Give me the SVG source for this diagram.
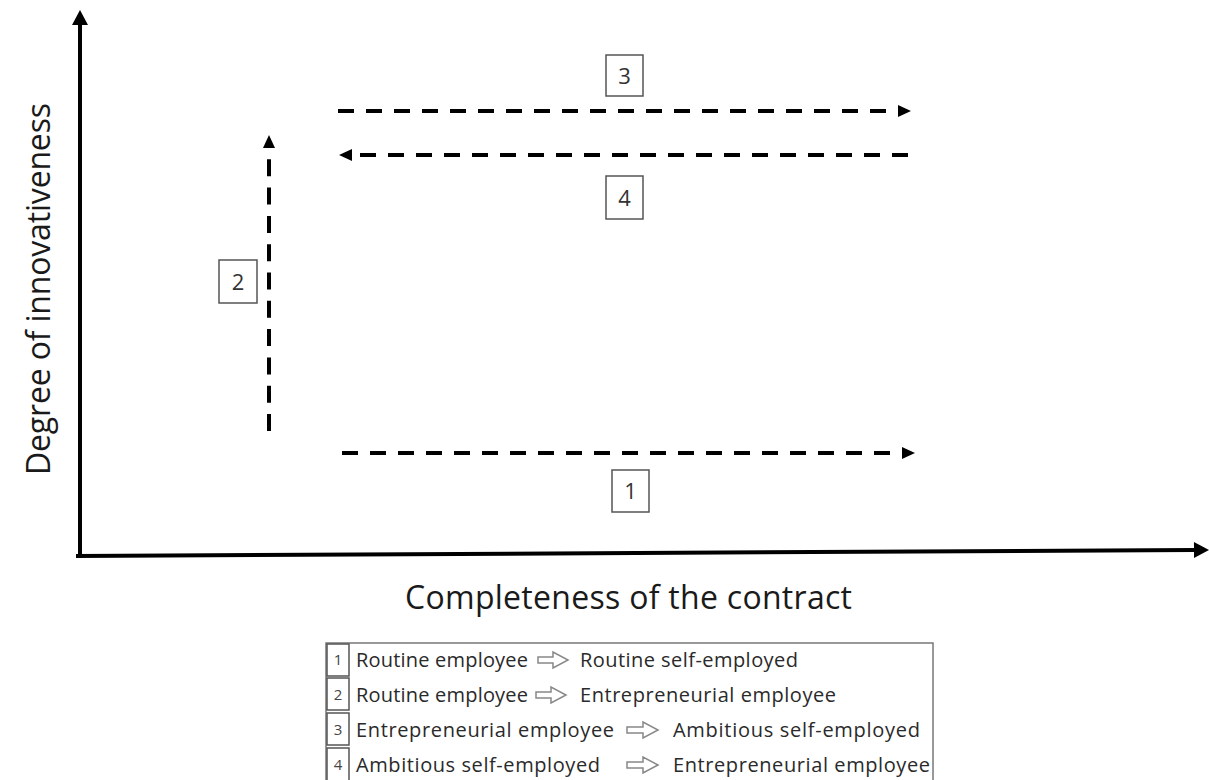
<svg xmlns="http://www.w3.org/2000/svg" width="1209" height="780" viewBox="0 0 1209 780">
<style>
.lbl{font-family:"Open Sans","Liberation Sans",sans-serif;fill:#1a1a1a}
.axis{stroke:#000;stroke-width:4;fill:none}
.dash{stroke:#000;stroke-width:4;fill:none;stroke-dasharray:16 12}
.dashv{stroke:#000;stroke-width:4;fill:none;stroke-dasharray:17 11.3}
.nbox{fill:#fff;stroke:#555;stroke-width:1.5}
.num{font-family:"Open Sans","Liberation Sans",sans-serif;font-size:22px;fill:#333;text-anchor:middle}
.leg{font-family:"Open Sans","Liberation Sans",sans-serif;font-size:20px;fill:#2a2a2a}
.lnum{font-family:"Open Sans","Liberation Sans",sans-serif;font-size:15px;fill:#444;text-anchor:middle}
.lbox{fill:none;stroke:#777;stroke-width:1.5}
.harrow{fill:none;stroke:#888;stroke-width:1.5;stroke-linejoin:miter}
</style>
<defs>
<marker id="ah" markerUnits="userSpaceOnUse" markerWidth="14" markerHeight="12" refX="0" refY="6" orient="auto" overflow="visible">
<path d="M0,0 L13,6 L0,12 z" fill="#000"/>
</marker>
<marker id="axh" markerUnits="userSpaceOnUse" markerWidth="16" markerHeight="16" refX="0" refY="8" orient="auto" overflow="visible">
<path d="M0,0 L15,8 L0,16 z" fill="#000"/>
</marker>
</defs>
<rect width="1209" height="780" fill="#fff"/>

<g id="axes">
<path class="axis" d="M80,556 L80,25" marker-end="url(#axh)"/>
<path class="axis" d="M76,556 L1194,550" marker-end="url(#axh)"/>
<text class="lbl" font-size="32" text-anchor="middle" textLength="372" transform="translate(50,289) rotate(-90)">Degree of innovativeness</text>
<text class="lbl" font-size="32" x="405" y="609" textLength="447">Completeness of the contract</text>
</g>

<g id="connectors">
<path class="dash" d="M342,453 H902" marker-end="url(#ah)"/>
<path class="dashv" d="M269,431 V148" marker-end="url(#ah)"/>
<path class="dash" d="M338,111 H898" marker-end="url(#ah)"/>
<path class="dash" d="M908,155 H352" marker-end="url(#ah)"/>
</g>

<g id="label1"><rect class="nbox" x="612" y="470" width="37" height="42"/><text class="num" x="630.5" y="499">1</text></g>
<g id="label2"><rect class="nbox" x="219" y="260" width="38" height="43"/><text class="num" x="238" y="290">2</text></g>
<g id="label3"><rect class="nbox" x="606" y="55" width="37" height="41"/><text class="num" x="624.5" y="84">3</text></g>
<g id="label4"><rect class="nbox" x="606" y="176" width="37" height="43"/><text class="num" x="624.5" y="206">4</text></g>

<g id="legend">
<rect class="lbox" x="326" y="643" width="607" height="150"/>
<g id="legend-row1">
<rect class="nbox" x="327" y="644" width="22" height="32"/><text class="lnum" x="338" y="665">1</text>
<text class="leg" x="356" y="667" textLength="172">Routine employee</text>
<path class="harrow" d="M538,657 H553 V652 L568,660 L553,668 V663 H538 Z"/>
<text class="leg" x="580" y="667" textLength="218">Routine self-employed</text>
</g>
<g id="legend-row2">
<rect class="nbox" x="327" y="678" width="22" height="32"/><text class="lnum" x="338" y="700">2</text>
<text class="leg" x="356" y="702" textLength="172">Routine employee</text>
<path class="harrow" d="M536,692 H551 V687 L566,695 L551,703 V698 H536 Z"/>
<text class="leg" x="580" y="702" textLength="256">Entrepreneurial employee</text>
</g>
<g id="legend-row3">
<rect class="nbox" x="327" y="713" width="22" height="32"/><text class="lnum" x="338" y="735">3</text>
<text class="leg" x="356" y="737" textLength="258">Entrepreneurial employee</text>
<path class="harrow" d="M627,727 H643 V722 L658,730 L643,738 V733 H627 Z"/>
<text class="leg" x="673" y="737" textLength="247">Ambitious self-employed</text>
</g>
<g id="legend-row4">
<rect class="nbox" x="327" y="748" width="22" height="34"/><text class="lnum" x="338" y="770">4</text>
<text class="leg" x="356" y="772" textLength="244">Ambitious self-employed</text>
<path class="harrow" d="M627,762 H643 V757 L658,765 L643,773 V768 H627 Z"/>
<text class="leg" x="673" y="772" textLength="257">Entrepreneurial employee</text>
</g>
</g>
</svg>
